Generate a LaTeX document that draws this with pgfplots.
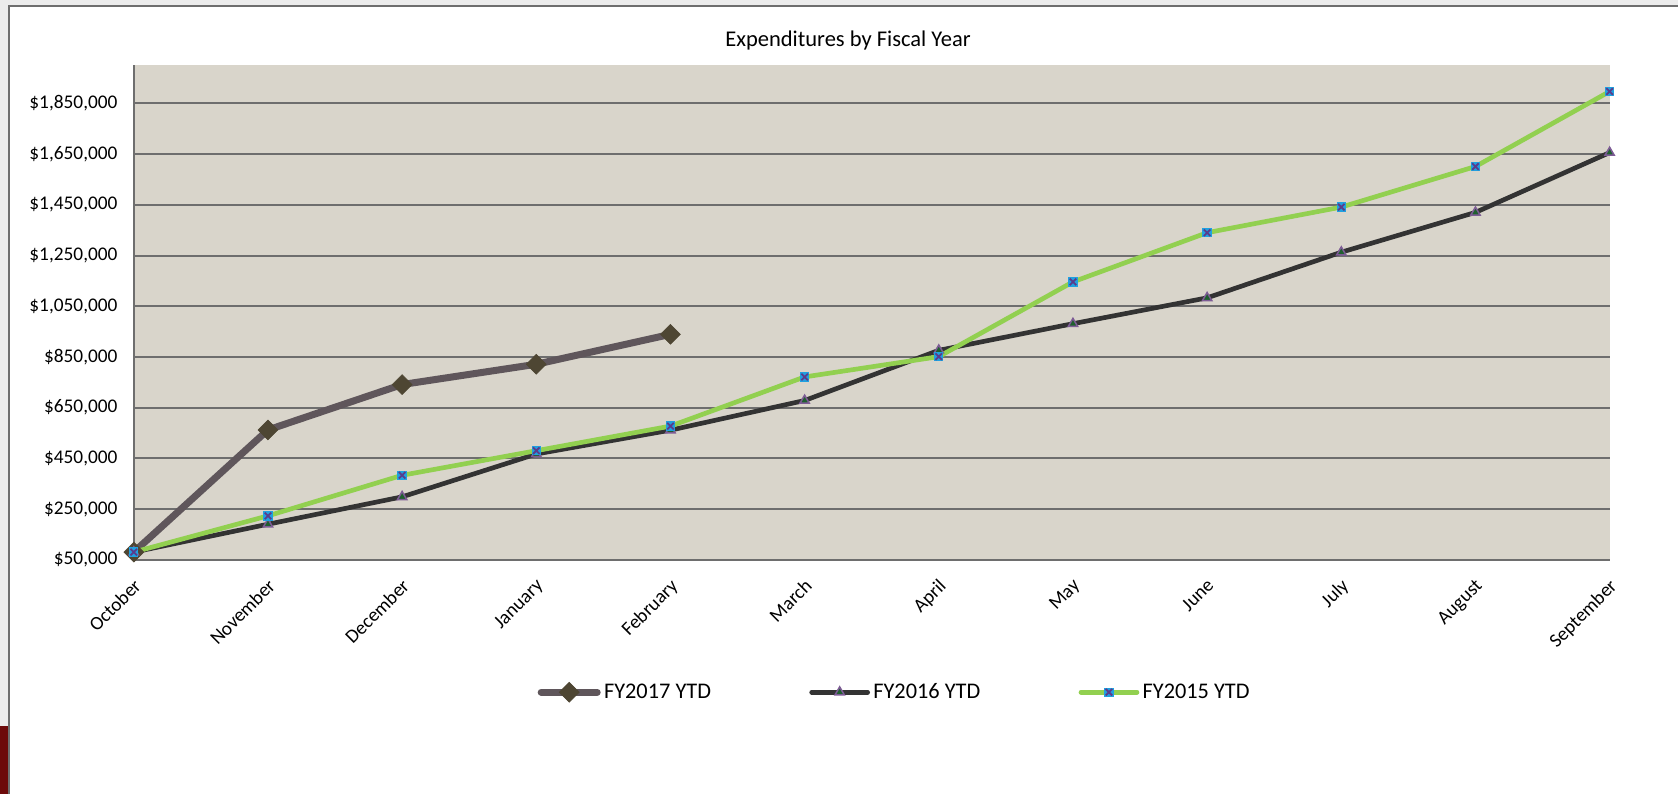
\documentclass[border=0pt]{standalone}
\usepackage{pgfplots}
\pgfplotsset{compat=1.18}
\usepackage{fontspec}
\setmainfont{Carlito}
\definecolor{outerbg}{HTML}{ECECEC}
\definecolor{framegray}{HTML}{6E6E6E}
\definecolor{darkred}{HTML}{6D0A0A}
\definecolor{plotbg}{HTML}{D9D5CB}
\definecolor{gridc}{HTML}{6E6E6E}
\definecolor{fy17line}{HTML}{5F565B}
\definecolor{fy17mark}{HTML}{4E4633}
\definecolor{fy16line}{HTML}{333333}
\definecolor{fy16fill}{HTML}{1F5F2F}
\definecolor{fy16draw}{HTML}{7D5C95}
\definecolor{fy15line}{HTML}{92D050}
\definecolor{fy15sq}{HTML}{20A0E0}
\definecolor{fy15x}{HTML}{5A3C8C}
\pgfdeclareplotmark{sqx}{%
 \pgfpathrectangle{\pgfqpoint{-\pgfplotmarksize}{-\pgfplotmarksize}}{\pgfqpoint{2\pgfplotmarksize}{2\pgfplotmarksize}}%
 \pgfsetfillcolor{fy15sq}\pgfusepath{fill}%
 \pgfpathmoveto{\pgfqpoint{-.7\pgfplotmarksize}{-.7\pgfplotmarksize}}\pgfpathlineto{\pgfqpoint{.7\pgfplotmarksize}{.7\pgfplotmarksize}}%
 \pgfpathmoveto{\pgfqpoint{-.7\pgfplotmarksize}{.7\pgfplotmarksize}}\pgfpathlineto{\pgfqpoint{.7\pgfplotmarksize}{-.7\pgfplotmarksize}}%
 \pgfsetstrokecolor{fy15x}\pgfsetlinewidth{1.1pt}\pgfsetbuttcap\pgfusepath{stroke}}
\begin{document}
\begin{tikzpicture}[x=0.6pt,y=0.6pt]
\useasboundingbox (0,0) rectangle (1678,794);
\fill[outerbg] (0,0) rectangle (1678,794);
\fill[white] (9,0) rectangle (1678,788);
\draw[framegray, line width=1.3pt] (9,0) -- (9,788) -- (1678,788);
\fill[darkred] (0,0) rectangle (8,68);
\node[font=\fontsize{13.5pt}{16pt}\selectfont, anchor=center] at (848,753) {Expenditures by Fiscal Year};
\begin{axis}[
  at={(80.28pt,140.58pt)}, anchor=south west,
  scale only axis, width=885.5pt, height=296.6pt,
  xmin=0, xmax=11, ymin=50000, ymax=2000000,
  clip=false,
  scaled y ticks=false,
  axis background/.style={fill=plotbg},
  axis x line*=bottom, axis y line*=left,
  axis line style={draw=framegray, line width=1.2pt, -},
  major tick length=0pt,
  ymajorgrids, grid style={draw=gridc, line width=1.2pt},
  xtick={0,...,11},
  xticklabels={October,November,December,January,February,March,April,May,June,July,August,September},
  ytick={50000,250000,450000,650000,850000,1050000,1250000,1450000,1650000,1850000},
  yticklabels={{\$50,000},{\$250,000},{\$450,000},{\$650,000},{\$850,000},{\$1,050,000},{\$1,250,000},{\$1,450,000},{\$1,650,000},{\$1,850,000}},
  ticklabel style={font=\fontsize{11.6pt}{14pt}\selectfont},
  yticklabel style={inner sep=0pt, xshift=-9.6pt},
  xticklabel style={rotate=45, anchor=north east, inner sep=0pt, xshift=-8pt, yshift=-7pt},
  legend columns=3,
  legend style={draw=none, fill=none, at={(0.516,-0.268)}, anchor=center,
    font=\fontsize{13.4pt}{16pt}\selectfont,
    /tikz/every even column/.append style={column sep=57pt},
    cells={anchor=west}, inner sep=0pt},
  legend image code/.code={\draw[mark repeat=2,mark phase=2,line cap=round,#1] plot coordinates {(0pt,0pt) (16.8pt,0pt) (33.6pt,0pt)};},
]
\addplot[fy17line, line width=4.2pt, mark=square*, mark size=4.2pt,
  mark options={rotate=45, fill=fy17mark, draw=fy17mark, line width=0.4pt}]
  coordinates {(0,80000) (1,562000) (2,741000) (3,821000) (4,939000)};
\addlegendentry{FY2017 YTD}
\addplot[fy16line, line width=2.8pt, mark=triangle*, mark size=3.2pt,
  mark options={fill=fy16fill, draw=fy16draw, line width=0.9pt}]
  coordinates {(0,80000) (1,190000) (2,298000) (3,467000) (4,561000) (5,678000) (6,876000) (7,981000) (8,1083000) (9,1263000) (10,1420000) (11,1656000)};
\addlegendentry{FY2016 YTD}
\addplot[fy15line, line width=2.8pt, mark=sqx, mark size=2.8pt]
  coordinates {(0,80000) (1,223000) (2,383000) (3,480000) (4,577000) (5,771000) (6,851000) (7,1146000) (8,1340000) (9,1441000) (10,1601000) (11,1897000)};
\addlegendentry{FY2015 YTD}
\end{axis}
\end{tikzpicture}
\end{document}
